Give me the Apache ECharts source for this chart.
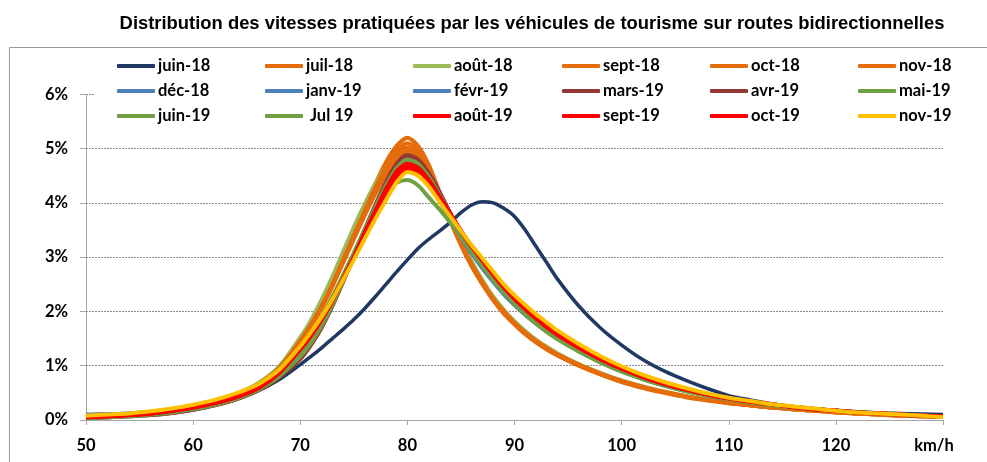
<!DOCTYPE html>
<html><head><meta charset="utf-8">
<script src="https://cdn.jsdelivr.net/npm/echarts@6/dist/echarts.min.js"></script>
<style>html,body{margin:0;padding:0;background:#fff}#c{width:987px;height:462px}</style>
</head><body><div id="c"></div>
<script>
const titleText = 'Distribution des vitesses pratiquées par les véhicules de tourisme sur routes bidirectionnelles';
const speeds = [50,52,54,56,58,60,62,64,66,68,70,71,72,73,74,75,76,77,78,79,80,81,82,83,84,85,86,87,88,89,90,91,92,93,94,96,98,100,102,104,106,108,110,112,114,116,118,120,122,124,126,128,130];
const xTicks = [50,60,70,80,90,100,110,120,'km/h'];
const yTicks = ['0%','1%','2%','3%','4%','5%','6%'];

const juin18 = [0.10,0.11,0.12,0.14,0.17,0.22,0.29,0.39,0.53,0.74,
 1.02,1.17,1.33,1.50,1.67,1.85,2.05,2.27,2.50,2.73,2.95,3.16,3.33,3.48,3.64,3.82,3.96,4.02,4.00,3.90,3.75,3.50,3.20,2.90,2.60,
 2.10,1.70,1.38,1.11,0.90,0.73,0.58,0.45,0.37,0.30,0.25,0.21,0.18,0.15,0.13,0.12,0.11,0.10];
const juil18 = [0.05,0.07,0.09,0.12,0.17,0.23,0.32,0.45,0.63,0.95,
 1.50,1.80,2.15,2.55,3.00,3.45,3.90,4.35,4.75,5.05,5.20,5.05,4.70,4.20,3.70,3.25,2.85,2.52,2.23,1.98,1.78,1.60,1.45,1.32,1.20,
 1.01,0.85,0.71,0.60,0.51,0.43,0.37,0.31,0.27,0.23,0.20,0.17,0.14,0.12,0.10,0.08,0.07,0.06];
const aout18 = [0.05,0.07,0.09,0.12,0.17,0.24,0.34,0.48,0.67,0.98,
 1.52,1.84,2.22,2.64,3.10,3.55,3.97,4.35,4.66,4.86,4.92,4.80,4.52,4.12,3.70,3.30,2.92,2.58,2.28,2.03,1.82,1.64,1.48,1.35,1.23,
 1.03,0.87,0.73,0.62,0.52,0.44,0.38,0.32,0.27,0.23,0.20,0.17,0.15,0.12,0.10,0.09,0.07,0.06];
const sept18 = [0.05,0.07,0.09,0.12,0.17,0.23,0.32,0.45,0.63,0.93,
 1.46,1.76,2.10,2.50,2.95,3.40,3.85,4.28,4.66,4.96,5.10,4.98,4.65,4.16,3.67,3.22,2.83,2.50,2.21,1.96,1.76,1.58,1.43,1.30,1.19,
 1.00,0.84,0.70,0.59,0.50,0.42,0.36,0.31,0.27,0.23,0.20,0.17,0.14,0.12,0.10,0.08,0.07,0.06];
const oct18 = [0.05,0.07,0.09,0.12,0.17,0.24,0.33,0.46,0.64,0.93,
 1.43,1.73,2.06,2.46,2.91,3.36,3.80,4.21,4.59,4.88,5.02,4.91,4.60,4.15,3.68,3.24,2.85,2.51,2.22,1.98,1.78,1.60,1.45,1.32,1.20,
 1.01,0.85,0.71,0.60,0.51,0.43,0.37,0.32,0.27,0.23,0.20,0.17,0.15,0.12,0.10,0.09,0.07,0.06];
const nov18 = [0.05,0.07,0.09,0.12,0.17,0.24,0.33,0.46,0.65,0.95,
 1.45,1.75,2.08,2.47,2.90,3.33,3.76,4.16,4.52,4.80,4.96,4.86,4.58,4.15,3.70,3.27,2.88,2.54,2.24,2.00,1.79,1.61,1.46,1.33,1.21,
 1.02,0.86,0.72,0.61,0.52,0.44,0.37,0.32,0.27,0.23,0.20,0.17,0.15,0.12,0.10,0.09,0.07,0.06];
const dec18 = [0.09,0.10,0.12,0.15,0.19,0.25,0.33,0.44,0.60,0.86,
 1.30,1.57,1.88,2.24,2.64,3.06,3.50,3.92,4.30,4.58,4.72,4.62,4.38,4.06,3.72,3.38,3.08,2.80,2.55,2.32,2.12,1.94,1.78,1.63,1.50,
 1.27,1.07,0.90,0.76,0.64,0.54,0.46,0.39,0.33,0.28,0.24,0.20,0.17,0.14,0.12,0.10,0.08,0.07];
const janv19 = [0.08,0.10,0.12,0.15,0.19,0.25,0.33,0.44,0.60,0.85,
 1.28,1.55,1.86,2.22,2.62,3.04,3.48,3.90,4.28,4.56,4.70,4.61,4.37,4.05,3.71,3.38,3.08,2.81,2.56,2.33,2.13,1.95,1.79,1.64,1.51,
 1.28,1.08,0.91,0.77,0.65,0.55,0.46,0.39,0.33,0.28,0.24,0.20,0.17,0.14,0.12,0.10,0.08,0.07];
const fevr19 = [0.08,0.09,0.11,0.14,0.18,0.24,0.32,0.43,0.59,0.84,
 1.27,1.54,1.85,2.21,2.60,3.02,3.46,3.87,4.25,4.53,4.67,4.59,4.36,4.04,3.70,3.37,3.07,2.80,2.55,2.32,2.12,1.94,1.78,1.63,1.50,
 1.27,1.07,0.90,0.76,0.64,0.54,0.46,0.39,0.33,0.28,0.24,0.20,0.17,0.14,0.12,0.10,0.08,0.07];
const mars19 = [0.04,0.05,0.07,0.09,0.13,0.19,0.27,0.38,0.54,0.78,
 1.12,1.38,1.70,2.10,2.55,3.02,3.50,3.96,4.38,4.72,4.88,4.80,4.55,4.20,3.82,3.47,3.15,2.86,2.60,2.36,2.15,1.96,1.79,1.64,1.50,
 1.27,1.07,0.90,0.76,0.64,0.54,0.46,0.39,0.33,0.28,0.24,0.20,0.17,0.14,0.12,0.10,0.08,0.07];
const avr19 = [0.04,0.05,0.07,0.09,0.13,0.19,0.27,0.38,0.54,0.79,
 1.15,1.40,1.72,2.10,2.55,3.00,3.48,3.92,4.33,4.66,4.83,4.75,4.50,4.17,3.80,3.46,3.14,2.86,2.60,2.37,2.16,1.97,1.80,1.65,1.51,
 1.28,1.08,0.91,0.77,0.65,0.55,0.46,0.39,0.33,0.28,0.24,0.20,0.17,0.14,0.12,0.10,0.08,0.07];
const mai19 = [0.04,0.05,0.07,0.10,0.14,0.20,0.28,0.39,0.55,0.80,
 1.17,1.42,1.74,2.12,2.56,3.02,3.48,3.92,4.32,4.64,4.80,4.72,4.48,4.15,3.79,3.45,3.13,2.85,2.59,2.36,2.15,1.96,1.79,1.64,1.50,
 1.27,1.07,0.90,0.76,0.64,0.54,0.46,0.39,0.33,0.28,0.24,0.20,0.17,0.14,0.12,0.10,0.08,0.07];
const juin19 = [0.05,0.06,0.08,0.11,0.15,0.21,0.29,0.40,0.56,0.82,
 1.22,1.48,1.80,2.17,2.59,3.03,3.47,3.89,4.26,4.57,4.74,4.66,4.43,4.11,3.76,3.43,3.12,2.84,2.58,2.35,2.14,1.95,1.78,1.63,1.49,
 1.26,1.06,0.89,0.75,0.63,0.53,0.45,0.38,0.32,0.27,0.23,0.20,0.17,0.14,0.12,0.10,0.08,0.07];
const jul19 = [0.05,0.06,0.08,0.11,0.15,0.21,0.30,0.42,0.58,0.86,
 1.30,1.58,1.90,2.27,2.67,3.08,3.50,3.88,4.18,4.37,4.42,4.32,4.10,3.88,3.64,3.38,3.10,2.84,2.59,2.36,2.15,1.96,1.79,1.64,1.50,
 1.27,1.07,0.90,0.76,0.64,0.54,0.46,0.39,0.33,0.28,0.24,0.20,0.17,0.14,0.12,0.10,0.08,0.07];
const aout19 = [0.05,0.07,0.09,0.12,0.17,0.23,0.31,0.42,0.58,0.86,
 1.30,1.55,1.85,2.20,2.60,3.00,3.45,3.85,4.25,4.58,4.72,4.65,4.42,4.12,3.80,3.48,3.20,2.94,2.68,2.44,2.23,2.04,1.87,1.71,1.57,
 1.33,1.12,0.94,0.79,0.66,0.56,0.47,0.40,0.34,0.29,0.24,0.20,0.17,0.14,0.12,0.10,0.08,0.07];
const sept19 = [0.05,0.07,0.09,0.12,0.17,0.23,0.31,0.42,0.58,0.87,
 1.31,1.56,1.86,2.20,2.59,2.99,3.42,3.82,4.20,4.52,4.66,4.60,4.39,4.10,3.79,3.48,3.20,2.94,2.69,2.45,2.24,2.05,1.88,1.72,1.58,
 1.34,1.13,0.95,0.80,0.67,0.56,0.47,0.40,0.34,0.29,0.24,0.20,0.17,0.14,0.12,0.10,0.08,0.07];
const oct19 = [0.06,0.07,0.09,0.12,0.17,0.24,0.32,0.43,0.59,0.88,
 1.32,1.57,1.87,2.21,2.59,2.98,3.40,3.80,4.17,4.48,4.62,4.56,4.36,4.08,3.78,3.48,3.20,2.95,2.70,2.46,2.25,2.06,1.89,1.73,1.59,
 1.35,1.14,0.96,0.80,0.67,0.57,0.48,0.40,0.34,0.29,0.24,0.20,0.17,0.14,0.12,0.10,0.08,0.07];
const nov19 = [0.08,0.10,0.12,0.16,0.21,0.28,0.37,0.49,0.65,0.92,
 1.36,1.62,1.90,2.22,2.58,2.95,3.33,3.70,4.05,4.38,4.57,4.50,4.30,4.02,3.75,3.48,3.22,2.98,2.74,2.50,2.30,2.12,1.95,1.80,1.65,
 1.40,1.18,0.99,0.83,0.70,0.59,0.49,0.41,0.35,0.29,0.25,0.21,0.17,0.14,0.12,0.10,0.08,0.05];

const seriesNames = ['juin-18','juil-18','août-18','sept-18','oct-18','nov-18',
  'déc-18','janv-19','févr-19','mars-19','avr-19','mai-19',
  'juin-19',' Jul 19','août-19','sept-19','oct-19','nov-19'];
const seriesValues = [juin18,juil18,aout18,sept18,oct18,nov18,dec18,janv19,fevr19,mars19,avr19,mai19,juin19,jul19,aout19,sept19,oct19,nov19];
const colors = ['#1F3864','#E46C0A','#9BBB59','#E46C0A','#E46C0A','#E46C0A',
  '#4F81BD','#4F81BD','#4F81BD','#953735','#953735','#6FA043',
  '#6FA043','#6FA043','#FF0000','#FF0000','#FF0000','#FFC000'];

const series = seriesNames.map((n, i) => ({
  name: n, type: 'line', symbol: 'none', smooth: 0.25,
  data: speeds.map((s, j) => [s, seriesValues[i][j]]),
  lineStyle: { width: i === 0 ? 3.5 : 4, color: colors[i] },
  itemStyle: { color: colors[i] }
}));

const legendFont = 'Lato, "Open Sans", sans-serif';
const colX = [117, 265, 413, 562, 710, 858];
const legends = colX.map((x, c) => ({
  orient: 'vertical', left: x, top: 57, padding: 0, itemGap: 7,
  itemWidth: 38, itemHeight: 4, icon: 'roundRect',
  selectedMode: false,
  data: [seriesNames[c], seriesNames[c + 6], seriesNames[c + 12]],
  textStyle: { fontFamily: legendFont, fontWeight: 'bold', fontSize: 16.5, color: '#000', lineHeight: 18, padding: [0,0,0,-2] }
}));

const chart = echarts.init(document.getElementById('c'), null, { renderer: 'canvas' });
chart.setOption({
  animation: false,
  backgroundColor: '#fff',
  title: { text: titleText, left: 527, textAlign: 'center', top: 10,
    textStyle: { fontFamily: '"Liberation Sans", Arial, sans-serif', fontWeight: 'bold', fontSize: 18.4, color: '#000' } },
  graphic: [
    { type: 'rect', shape: { x: 9.5, y: 47.5, width: 1000, height: 500 }, style: { fill: 'none', stroke: '#9a9a9a', lineWidth: 1 }, z: 1 },
    { type: 'rect', shape: { x: 95, y: 86, width: 860, height: 16 }, style: { fill: '#fff' }, z: 2 }
  ],
  legend: legends,
  grid: { left: 86, right: 44, top: 94.3, bottom: 42 },
  xAxis: {
    type: 'value', min: 50, max: 130, interval: 10,
    axisLine: { lineStyle: { color: '#a6a6a6', width: 1 } },
    axisTick: { show: true, length: 5, lineStyle: { color: '#a6a6a6' } },
    splitLine: { show: false },
    axisLabel: {
      margin: 17, fontFamily: legendFont, fontWeight: 'bold', fontSize: 16.5, color: '#000',
      formatter: v => { const i = (v - 50) / 10; const t = xTicks[i]; return t === 'km/h' ? '{k|km/h}' : String(t); },
      rich: { k: { fontFamily: legendFont, fontWeight: 'bold', fontSize: 16.5, color: '#000', padding: [0, 18, 0, 0] } }
    }
  },
  yAxis: {
    type: 'value', min: 0, max: 6, interval: 1,
    axisLine: { show: true, lineStyle: { color: '#a6a6a6', width: 1 } },
    axisTick: { show: true, length: 6, lineStyle: { color: '#a6a6a6' } },
    splitLine: { show: true, lineStyle: { color: '#8c8c8c', type: [2, 1], width: 1 } },
    axisLabel: { margin: 18, fontFamily: legendFont, fontWeight: 'bold', fontSize: 16.5, color: '#000',
      formatter: v => yTicks[Math.round(v)] }
  },
  series: series
});
</script></body></html>
